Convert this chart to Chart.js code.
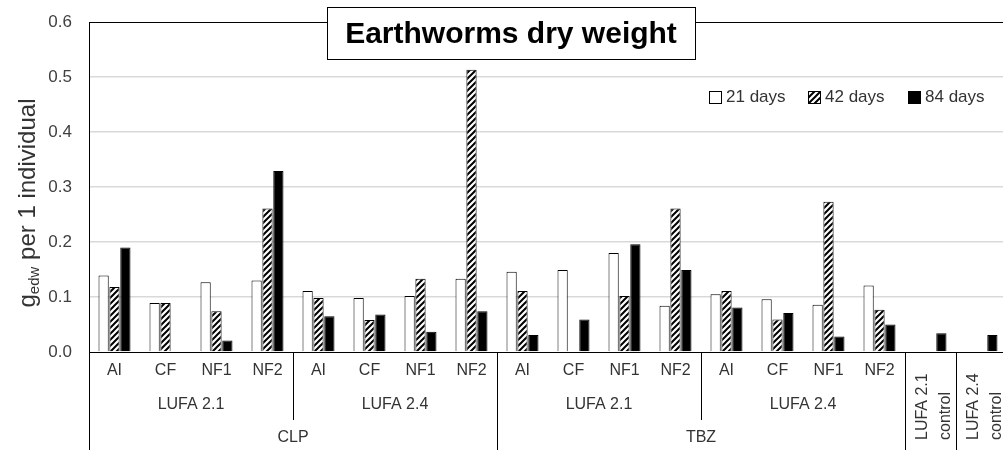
<!DOCTYPE html>
<html>
<head>
<meta charset="utf-8">
<script src="https://cdn.jsdelivr.net/npm/chart.js@4/dist/chart.umd.min.js"></script>
<style>
  html, body { margin: 0; padding: 0; background: #fff; overflow: hidden; }
  #wrap { width: 1008px; height: 450px; }
</style>
</head>
<body>
<div id="wrap"><canvas id="myChart" width="1008" height="450"></canvas></div>
<script>
// categories (bottom level), then soil and compound groups by index range
const categories = ['AI', 'CF', 'NF1', 'NF2', 'AI', 'CF', 'NF1', 'NF2',
    'AI', 'CF', 'NF1', 'NF2', 'AI', 'CF', 'NF1', 'NF2',
    ['LUFA 2.1', 'control'], ['LUFA 2.4', 'control']]
const soilGroups = [
    { label: 'LUFA 2.1', from: 0, to: 3 },
    { label: 'LUFA 2.4', from: 4, to: 7 },
    { label: 'LUFA 2.1', from: 8, to: 11 },
    { label: 'LUFA 2.4', from: 12, to: 15 },
]
const compoundGroups = [
    { label: 'CLP', from: 0, to: 7 },
    { label: 'TBZ', from: 8, to: 15 },
]
const seriesNames = ['21 days', '42 days', '84 days']
const days21 = [0.139, 0.089, 0.127, 0.130, 0.111, 0.098, 0.102, 0.133,
    0.146, 0.149, 0.180, 0.084, 0.105, 0.096, 0.086, 0.121, null, null]
const days42 = [0.118, 0.089, 0.074, 0.261, 0.098, 0.058, 0.133, 0.513,
    0.111, null, 0.102, 0.261, 0.111, 0.059, 0.273, 0.077, null, null]
const days84 = [0.190, null, 0.021, 0.329, 0.065, 0.068, 0.037, 0.074,
    0.031, 0.059, 0.196, 0.149, 0.081, 0.071, 0.028, 0.050, 0.034, 0.031]
const yTicks = [0, 0.1, 0.2, 0.3, 0.4, 0.5, 0.6]

const textColor = '#333'
const font = 'Liberation Sans, Arial, sans-serif'

// hatched fill for 42 days
function makeHatch() {
    const c = document.createElement('canvas')
    c.width = 6
    c.height = 6
    const g = c.getContext('2d')
    g.fillStyle = '#fff'
    g.fillRect(0, 0, 6, 6)
    g.strokeStyle = '#000'
    g.lineWidth = 2
    g.beginPath()
    g.moveTo(-1, 7); g.lineTo(7, -1)
    g.moveTo(-4, 4); g.lineTo(4, -4)
    g.moveTo(2, 10); g.lineTo(10, 2)
    g.stroke()
    return g.createPattern(c, 'repeat')
}
const hatch = makeHatch()
const fills = ['#fff', hatch, '#000']

// axis labels, frame, legend, title
const decorations = {
    id: 'decorations',
    afterDraw(chart) {
        const ctx = chart.ctx
        const x = chart.scales.x
        const area = chart.chartArea
        const half = (x.getPixelForValue(1) - x.getPixelForValue(0)) / 2
        const edgeL = i => x.getPixelForValue(i) - half
        const edgeR = i => x.getPixelForValue(i) + half
        ctx.save()

        // frame
        ctx.strokeStyle = '#000'
        ctx.lineWidth = 1
        ctx.beginPath()
        ctx.moveTo(area.left + 0.5, area.top)
        ctx.lineTo(area.left + 0.5, 450)
        ctx.moveTo(area.left, area.top + 0.5)
        ctx.lineTo(area.right, area.top + 0.5)
        ctx.moveTo(area.left, area.bottom + 0.5)
        ctx.lineTo(area.right, area.bottom + 0.5)
        // dividers
        soilGroups.forEach((g, i) => {
            if (i === 0) return
            const px = Math.round(edgeL(g.from)) + 0.5
            const isMajor = compoundGroups.some(c => c.from === g.from)
            ctx.moveTo(px, area.bottom)
            ctx.lineTo(px, isMajor ? 450 : 420)
        })
        ;[16, 17].forEach(i => {
            const px = Math.round(edgeL(i)) + 0.5
            ctx.moveTo(px, area.bottom)
            ctx.lineTo(px, 450)
        })
        ctx.stroke()

        // category labels
        ctx.fillStyle = textColor
        ctx.font = '16px ' + font
        ctx.textAlign = 'center'
        ctx.textBaseline = 'middle'
        categories.forEach((c, i) => {
            const cx = x.getPixelForValue(i)
            if (Array.isArray(c)) {
                ctx.save()
                ctx.translate(cx, 440)
                ctx.rotate(-Math.PI / 2)
                ctx.textAlign = 'left'
                ctx.fillText(c[0], 0, -8)
                ctx.fillText(c[1], 0, 15)
                ctx.restore()
            } else {
                ctx.fillText(c, cx, 371)
            }
        })
        soilGroups.forEach(g => {
            ctx.fillText(g.label, (edgeL(g.from) + edgeR(g.to)) / 2, 405)
        })
        compoundGroups.forEach(g => {
            ctx.fillText(g.label, (edgeL(g.from) + edgeR(g.to)) / 2, 438)
        })

        // y title with subscript
        ctx.save()
        ctx.translate(27, 203)
        ctx.rotate(-Math.PI / 2)
        ctx.textAlign = 'left'
        ctx.textBaseline = 'alphabetic'
        const big = '24px ' + font
        const small = '15px ' + font
        ctx.font = big
        const w1 = ctx.measureText('g').width
        const w3 = ctx.measureText(' per 1 individual').width
        ctx.font = small
        const w2 = ctx.measureText('edw').width
        let tx = -(w1 + w2 + w3) / 2
        ctx.font = big
        ctx.fillText('g', tx, 8)
        tx += w1
        ctx.font = small
        ctx.fillText('edw', tx, 12)
        tx += w2
        ctx.font = big
        ctx.fillText(' per 1 individual', tx, 8)
        ctx.restore()

        // legend
        const legendX = [709, 808, 908]
        ctx.font = '17px ' + font
        ctx.textAlign = 'left'
        ctx.textBaseline = 'middle'
        seriesNames.forEach((s, i) => {
            ctx.fillStyle = fills[i]
            ctx.fillRect(legendX[i], 91, 12, 12)
            ctx.strokeStyle = '#000'
            ctx.strokeRect(legendX[i] + 0.5, 91.5, 12, 12)
            ctx.fillStyle = textColor
            ctx.fillText(s, legendX[i] + 17, 97)
        })

        // title box
        ctx.fillStyle = '#fff'
        ctx.fillRect(327, 7, 368, 52)
        ctx.strokeStyle = '#000'
        ctx.strokeRect(327.5, 7.5, 368, 52)
        ctx.fillStyle = '#000'
        ctx.font = 'bold 30px ' + font
        ctx.textAlign = 'center'
        ctx.fillText('Earthworms dry weight', 511, 35)
        ctx.restore()
    },
}

const ctx = document.getElementById('myChart').getContext('2d')
const myChart = new Chart(ctx, {
    type: 'bar',
    data: {
        labels: categories,
        datasets: [days21, days42, days84].map((d, i) => ({
            label: seriesNames[i],
            data: d,
            backgroundColor: fills[i],
            borderColor: '#000',
            borderWidth: 1,
            categoryPercentage: 0.64,
            barPercentage: 0.94,
        })),
    },
    options: {
        responsive: false,
        animation: false,
        layout: { padding: { top: 22, bottom: 98, left: 0, right: 1 } },
        plugins: {
            legend: { display: false },
            tooltip: { enabled: false },
        },
        scales: {
            x: { display: false },
            y: {
                min: 0,
                max: 0.6,
                afterFit(scale) {
                    scale.width = 89
                    scale.paddingTop = 0
                    scale.paddingBottom = 0
                },
                afterBuildTicks(scale) { scale.ticks = yTicks.map(v => ({ value: v })) },
                border: { display: false },
                grid: {
                    drawTicks: false,
                    color: c => (c.tick.value === 0 || c.tick.value === 0.6 ? 'rgba(0,0,0,0)' : '#d9d9d9'),
                    lineWidth: 1.5,
                },
                ticks: {
                    padding: 17,
                    color: '#404040',
                    font: { family: font, size: 17 },
                    callback: v => v.toFixed(1),
                },
            },
        },
    },
    plugins: [decorations],
})
</script>
</body>
</html>
